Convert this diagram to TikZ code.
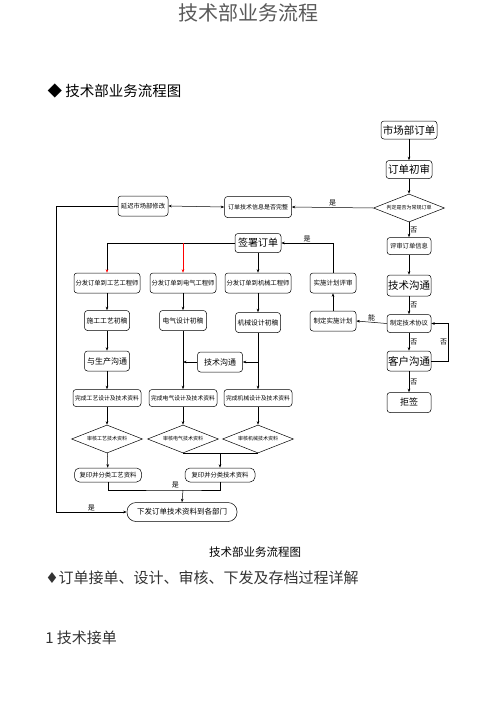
\documentclass[tikz,border=0pt]{standalone}
\usepackage{fontspec}
\setmainfont{Noto Sans CJK SC}
\newfontfamily\symfont{DejaVu Sans}
\usepackage{xcolor}
\usetikzlibrary{shapes.geometric,arrows.meta,positioning}

\begin{document}
\begin{tikzpicture}[
  x=1pt,y=-1pt,
  node distance=18pt,
  line width=0.5pt,
  box/.style={rectangle,draw,rounded corners=3pt,inner sep=1pt,minimum height=19pt,font=\fontsize{6.3}{7}\selectfont},
  bigbox/.style={box,font=\fontsize{10.5}{12}\selectfont},
  check/.style={diamond,draw,aspect=2.5,inner sep=0pt,minimum width=71pt,minimum height=28pt,font=\fontsize{5}{6}\selectfont},
  arr/.style={-{Stealth[length=3.5pt,width=2.6pt]}},
  tag/.style={font=\fontsize{7}{8}\selectfont,inner sep=1pt}
]
\useasboundingbox (0,0) rectangle (500,707);

% page texts
\node[font=\fontsize{20}{22}\selectfont,text=black!65] (title) at (248,13) {技术部业务流程};
\node[font=\fontsize{14.5}{16}\selectfont,anchor=west] (head) at (44,91) {◆ 技术部业务流程图};
\node[font=\fontsize{11.5}{13}\selectfont] (cap) at (255,552) {技术部业务流程图};
\node[font=\fontsize{15}{17}\selectfont,text=black!80,anchor=west,inner sep=0pt] (sub) at (45,578) {{\symfont ♦}订单接单、设计、审核、下发及存档过程详解};
\node[font=\fontsize{15}{17}\selectfont,text=black!80,anchor=west,inner sep=0pt] (sec) at (45,638) {1 技术接单};

% right column
\node[bigbox,minimum width=56pt,minimum height=18pt] (mkt) at (409,130) {市场部订单};
\node[bigbox,minimum width=46pt,minimum height=18pt,below=21pt of mkt] (chk) {订单初审};
\node[check,below=15pt of chk] (dia) {判定是否为常规订单};
\node[box,minimum width=44pt,minimum height=17pt,below=15pt of dia] (rev) {评审订单信息};
\node[bigbox,minimum width=44pt,minimum height=21pt,below=20pt of rev] (tcom) {技术沟通};
\node[box,minimum width=44pt,minimum height=18pt,below=of tcom] (agree) {制定技术协议};
\node[bigbox,minimum width=44pt,minimum height=20pt,below=of agree] (cust) {客户沟通};
\node[bigbox,minimum width=44pt,minimum height=20pt,below=21pt of cust,font=\fontsize{9}{10}\selectfont] (rej) {拒签};

% order check
\node[box,minimum width=67pt,minimum height=21pt,font=\fontsize{6}{7}\selectfont] (info) at (258,207) {订单技术信息是否完整};
\node[box,minimum width=50pt,minimum height=20pt] (delay) at (143,206) {延迟市场部修改};
\node[bigbox,minimum width=46pt,minimum height=19pt,font=\fontsize{10}{11}\selectfont] (sign) at (258,243) {签署订单};
\node[box,minimum width=46pt,minimum height=20pt,font=\fontsize{6.5}{7}\selectfont] (planrev) at (333,283) {实施计划评审};
\node[box,minimum width=46pt,minimum height=20pt,font=\fontsize{6.5}{7}\selectfont] (plan) at (333,321) {制定实施计划};

% engineer columns
\node[box,minimum width=66pt,minimum height=20pt] (dA) at (107,283) {分发订单到工艺工程师};
\node[box,minimum width=66pt,minimum height=20pt] (dB) at (183,283) {分发订单到电气工程师};
\node[box,minimum width=66pt,minimum height=20pt] (dC) at (258,283) {分发订单到机械工程师};
\node[box,minimum width=45pt,minimum height=20pt,font=\fontsize{6.8}{7}\selectfont,below=17pt of dA] (pA) {施工工艺初稿};
\node[box,minimum width=47pt,minimum height=20pt,font=\fontsize{6.8}{7}\selectfont,below=17pt of dB] (pB) {电气设计初稿};
\node[box,minimum width=45pt,minimum height=20pt,font=\fontsize{6.8}{7}\selectfont,below=19pt of dC] (pC) {机械设计初稿};
\node[box,minimum width=45pt,minimum height=20pt,font=\fontsize{8}{9}\selectfont,below=20pt of pA] (talkA) {与生产沟通};
\node[box,minimum width=45pt,minimum height=20pt,font=\fontsize{8}{9}\selectfont] (talk) at (220,362) {技术沟通};
\node[box,minimum width=68pt,minimum height=17pt,font=\fontsize{5.8}{6}\selectfont] (fA) at (107,398) {完成工艺设计及技术资料};
\node[box,minimum width=68pt,minimum height=17pt,font=\fontsize{5.8}{6}\selectfont] (fB) at (183,398) {完成电气设计及技术资料};
\node[box,minimum width=68pt,minimum height=17pt,font=\fontsize{5.8}{6}\selectfont] (fC) at (258,398) {完成机械设计及技术资料};
\node[check,below=18pt of fA] (qA) {审核工艺技术资料};
\node[check,below=18pt of fB] (qB) {审核电气技术资料};
\node[check,below=18pt of fC] (qC) {审核机械技术资料};
\node[box,minimum width=67pt,minimum height=14pt,rounded corners=5pt] (cA) at (108,475) {复印并分类工艺资料};
\node[box,minimum width=70pt,minimum height=14pt,rounded corners=5pt] (cT) at (220,475) {复印并分类技术资料};
\node[box,minimum width=110pt,minimum height=19pt,rounded corners=9pt,font=\fontsize{7.5}{8}\selectfont] (issue) at (182,512) {下发订单技术资料到各部门};
\coordinate (join) at (183,490);

% right column flow
\draw[arr] (mkt) -- (chk);
\draw[arr] (chk) -- (dia);
\draw[arr] (dia) -- node[tag,right] {否} (rev);
\draw[arr] (rev) -- (tcom);
\draw[arr] (tcom) -- node[tag,right] {否} (agree);
\draw[arr] (agree) -- node[tag,right] {否} (cust);
\draw[arr] (cust) -- node[tag,right] {否} (rej);
\draw[arr] (cust.east) -- ++(17,0) |- node[tag,pos=0.25,left] {否} (agree.east);
\draw[arr] (agree.west) -- node[tag,above] {能} (plan.east);
\draw[arr] (plan) -- (planrev);
\draw[arr] (planrev.north) |- node[tag,pos=0.75,above] {是} (sign.east);

% order check flow
\draw[arr] (dia.west) -- node[tag,above] {是} (info.east);
\draw[{Stealth[length=3.5pt,width=2.6pt]}-{Stealth[length=3.5pt,width=2.6pt]}] (delay.east) -- (info.west);
\draw[arr] (delay.west) -- ++(-62,0) |- node[tag,pos=0.75,above] {是} (issue.west);

% distribution
\draw[-{Stealth[length=3.5pt,width=2.6pt,red]}] (sign.west) -| (dA.north);
\draw[red,arr] (dB.north |- sign.west) -- (dB.north);
\draw[arr] (sign) -- (dC);
\draw[arr] (dA) -- (pA);
\draw[arr] (dB) -- (pB);
\draw[arr] (dC) -- (pC);
\draw[arr] (pA) -- (talkA);
\draw[arr] (talkA) -- (fA);
\draw[arr] (pB) -- (fB);
\draw[arr] (pC) -- (fC);
\draw[arr] (talk.west) -- (talk.west -| pB);
\draw[arr] (talk.east -| pC) -- (talk.east);

% review and issue
\draw[arr] (fA) -- (qA);
\draw[arr] (fB) -- (qB);
\draw[arr] (fC) -- (qC);
\draw[arr] (qA) -- (cA);
\draw (qB.south) -- (qC.south);
\draw[arr] (cT.north |- qB.south) -- (cT.north);
\draw (cA.south) |- (join) -| (cT.south);
\draw[arr] (join) -- node[tag,pos=0,above left=1pt and 3pt] {是} (issue.north);
\end{tikzpicture}
\end{document}
